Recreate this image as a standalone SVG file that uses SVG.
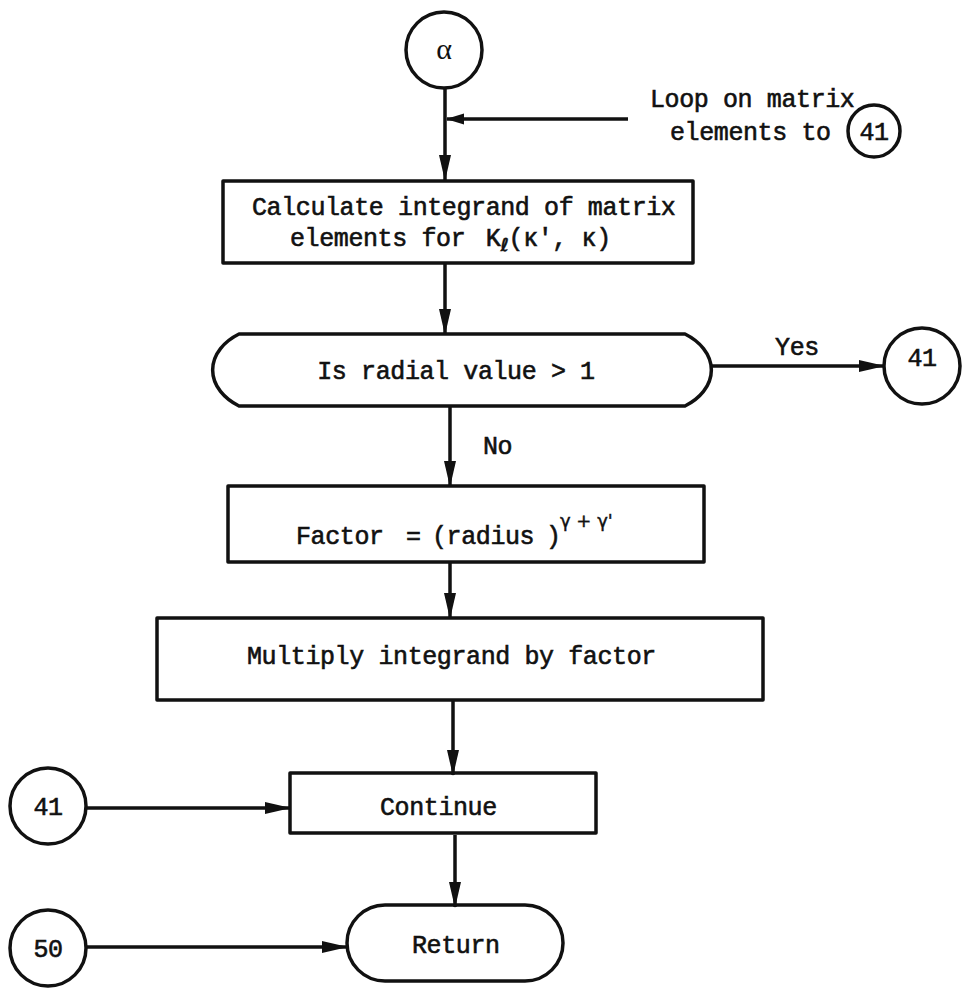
<svg xmlns="http://www.w3.org/2000/svg" width="962" height="990" viewBox="0 0 962 990">
  <defs>
    <style>
      .shape { fill: none; stroke: #111; stroke-width: 3.5; stroke-linejoin: round; }
      .link { fill: none; stroke: #111; stroke-width: 3.5; }
      .tw { font-family: "Liberation Mono", "DejaVu Sans Mono", monospace; font-size: 25px; letter-spacing: -0.4px; fill: #111; stroke: #111; stroke-width: 0.6px; }
      .sup { font-family: "DejaVu Sans", "Liberation Sans", sans-serif; font-size: 18px; fill: #111; stroke: #111; stroke-width: 0.4px; }
    </style>
    <marker id="head" markerUnits="userSpaceOnUse" markerWidth="26" markerHeight="14" refX="25" refY="7" orient="auto">
      <path d="M0,1 L26,7 L0,13 Z" fill="#111"/>
    </marker>
    <marker id="headSmall" markerUnits="userSpaceOnUse" markerWidth="18" markerHeight="12" refX="17" refY="6" orient="auto">
      <path d="M0,0.5 L18,6 L0,11.5 Z" fill="#111"/>
    </marker>
  </defs>

  <rect width="962" height="990" fill="#fff"/>

  <!-- connectors -->
  <g id="connectors">
    <path class="link" d="M445,88 V180" marker-end="url(#head)"/>
    <path class="link" d="M628,119 H447" marker-end="url(#headSmall)"/>
    <path class="link" d="M445,263 V334" marker-end="url(#head)"/>
    <path class="link" d="M711,366 H884" marker-end="url(#head)"/>
    <path class="link" d="M450,406 V486" marker-end="url(#head)"/>
    <path class="link" d="M450,562 V618" marker-end="url(#head)"/>
    <path class="link" d="M453,700 V775" marker-end="url(#head)"/>
    <path class="link" d="M86,808 H290" marker-end="url(#head)"/>
    <path class="link" d="M455,835 V907" marker-end="url(#head)"/>
    <path class="link" d="M86,947 H347" marker-end="url(#head)"/>
    <text class="tw" x="797" y="355" text-anchor="middle">Yes</text>
    <text class="tw" x="483" y="454">No</text>
  </g>

  <!-- entry connector alpha -->
  <g id="node-alpha">
    <circle class="shape" cx="444" cy="50" r="38"/>
    <text x="444" y="59" text-anchor="middle" font-family="Liberation Serif, DejaVu Serif, serif" font-size="30" fill="#111">α</text>
  </g>

  <!-- loop note -->
  <g id="node-loop-note">
    <text class="tw" x="650" y="107">Loop on matrix</text>
    <text class="tw" x="670" y="140">elements to</text>
    <circle class="shape" cx="874" cy="131" r="26"/>
    <text class="tw" x="874" y="140" text-anchor="middle">41</text>
  </g>

  <!-- calculate integrand -->
  <g id="node-calculate">
    <rect class="shape" x="223" y="181" width="470" height="82"/>
    <text class="tw" x="252" y="215">Calculate integrand of matrix</text>
    <text class="tw" x="290" y="246">elements for <tspan dx="6">K</tspan><tspan class="sup" font-weight="bold" dy="5">ℓ</tspan><tspan dy="-5">(κ', κ)</tspan></text>
  </g>

  <!-- radial test -->
  <g id="node-decision">
    <path class="shape" d="M239,334 H685 A62 44 0 0 1 685,406 H239 A62 44 0 0 1 239,334 Z"/>
    <text class="tw" x="456" y="379" text-anchor="middle">Is radial value &gt; 1</text>
  </g>

  <!-- connector 41 (yes branch) -->
  <g id="node-41-right">
    <circle class="shape" cx="922" cy="366" r="38"/>
    <text class="tw" x="922" y="366" text-anchor="middle">41</text>
  </g>

  <!-- factor -->
  <g id="node-factor">
    <rect class="shape" x="228" y="486" width="476" height="76"/>
    <text class="tw" y="544"><tspan x="296">Factor</tspan><tspan x="406">=</tspan><tspan x="432">(radius</tspan><tspan x="546">)</tspan></text>
    <text class="sup" x="560" y="527">γ + γ'</text>
  </g>

  <!-- multiply -->
  <g id="node-multiply">
    <rect class="shape" x="157" y="618" width="606" height="82"/>
    <text class="tw" x="247" y="664">Multiply integrand by factor</text>
  </g>

  <!-- continue -->
  <g id="node-continue">
    <rect class="shape" x="290" y="773" width="306" height="60"/>
    <text class="tw" x="380" y="815">Continue</text>
  </g>

  <!-- connector 41 (left) -->
  <g id="node-41-left">
    <circle class="shape" cx="48" cy="806" r="38"/>
    <text class="tw" x="48" y="815" text-anchor="middle">41</text>
  </g>

  <!-- return -->
  <g id="node-return">
    <rect class="shape" x="347" y="905" width="216" height="76" rx="38"/>
    <text class="tw" x="412" y="953">Return</text>
  </g>

  <!-- connector 50 -->
  <g id="node-50">
    <circle class="shape" cx="48" cy="948" r="38"/>
    <text class="tw" x="48" y="957" text-anchor="middle">50</text>
  </g>
</svg>
